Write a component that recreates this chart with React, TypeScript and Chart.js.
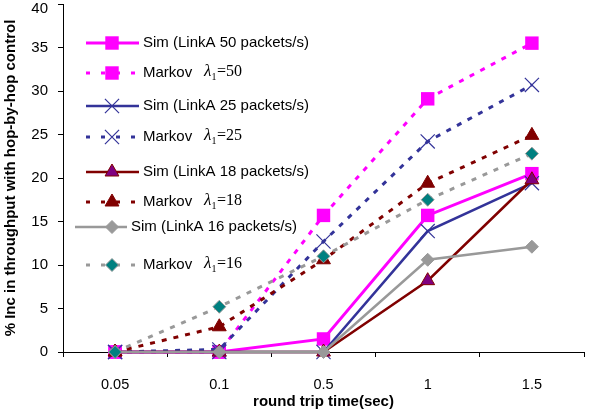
import React, { useEffect, useRef } from "react";
import { Chart, registerables } from "chart.js";

Chart.register(...registerables);

const categories = ["0.05", "0.1", "0.5", "1", "1.5"];
const sim50 = [0, 0, 1.5, 15.7, 20.5];
const markov50 = [0, 0, 15.7, 29.1, 35.5];
const sim25 = [0, 0, 0, 13.9, 19.4];
const markov25 = [0, 0.3, 12.7, 24.2, 30.7];
const sim18 = [0, 0, 0, 8.2, 19.8];
const markov18 = [0, 2.9, 10.6, 19.4, 24.9];
const sim16 = [0, 0, 0, 10.6, 12.1];
const markov16 = [0, 5.2, 11.0, 17.5, 22.8];

const yTicks = [0, 5, 10, 15, 20, 25, 30, 35, 40];
const lambdas = ["50", "25", "18", "16"];

const SANS = "'Liberation Sans', Arial, sans-serif";
const SERIF = "'Liberation Serif', 'Times New Roman', serif";

const MAGENTA = "#FF00FF";
const NAVY = "#333399";
const DARKRED = "#800000";
const GRAY = "#999999";
const TEAL = "#008080";
const PURPLE = "#800080";

// legend layout (positions in px)
const legendY = [43, 73, 106, 137, 172, 202, 227, 265];

function drawMarker(ctx: CanvasRenderingContext2D, style: string, x: number, y: number, r: number, fill: string, stroke: string, bw: number) {
  ctx.save();
  ctx.setLineDash([]);
  ctx.beginPath();
  if (style === "rect") {
    const s = Math.SQRT1_2 * r;
    ctx.rect(x - s, y - s, 2 * s, 2 * s);
  } else if (style === "rectRot") {
    ctx.moveTo(x - r, y);
    ctx.lineTo(x, y - r);
    ctx.lineTo(x + r, y);
    ctx.lineTo(x, y + r);
    ctx.closePath();
  } else if (style === "triangle") {
    let a = 0;
    ctx.moveTo(x + Math.sin(a) * r, y - Math.cos(a) * r);
    a += (2 * Math.PI) / 3;
    ctx.lineTo(x + Math.sin(a) * r, y - Math.cos(a) * r);
    a += (2 * Math.PI) / 3;
    ctx.lineTo(x + Math.sin(a) * r, y - Math.cos(a) * r);
    ctx.closePath();
  } else if (style === "crossRot") {
    const o = Math.cos(Math.PI / 4) * r;
    ctx.moveTo(x - o, y - o);
    ctx.lineTo(x + o, y + o);
    ctx.moveTo(x + o, y - o);
    ctx.lineTo(x - o, y + o);
  }
  if (style !== "crossRot") {
    ctx.fillStyle = fill;
    ctx.fill();
  }
  if (bw > 0) {
    ctx.lineWidth = bw;
    ctx.strokeStyle = stroke;
    ctx.stroke();
  }
  ctx.restore();
}

const legendPlugin = {
  id: "customLegend",
  afterDatasetsDraw(chart: any) {
    const ctx: CanvasRenderingContext2D = chart.ctx;
    chart.data.datasets.forEach((ds: any, i: number) => {
      const y = legendY[i];
      const isSim = i % 2 === 0;
      const isLast = i === 6;
      const x0 = isLast ? 75 : 86;
      const x1 = isLast ? 127 : 139;
      const mx = 112;
      ctx.save();
      ctx.strokeStyle = ds.borderColor;
      ctx.lineWidth = ds.borderWidth;
      if (!isSim) ctx.setLineDash([4, 11]);
      ctx.beginPath();
      ctx.moveTo(x0, y);
      ctx.lineTo(x1, y);
      ctx.stroke();
      ctx.restore();
      drawMarker(ctx, ds.pointStyle, mx, y, ds.pointRadius, ds.pointBackgroundColor, ds.pointBorderColor, ds.pointBorderWidth);
      ctx.save();
      ctx.fillStyle = "#000";
      ctx.textBaseline = "middle";
      ctx.textAlign = "left";
      if (isSim) {
        ctx.font = `15px ${SANS}`;
        ctx.fillText(ds.label, isLast ? 131 : 143, y);
      } else {
        ctx.font = `15px ${SANS}`;
        ctx.fillText("Markov", 143, y);
        ctx.font = `italic 17px ${SERIF}`;
        ctx.fillText("\u03BB", 204, y - 1);
        ctx.font = `10px ${SERIF}`;
        ctx.fillText("1", 211.5, y + 4);
        ctx.font = `16px ${SERIF}`;
        ctx.fillText("=" + lambdas[(i - 1) / 2], 217, y - 1);
      }
      ctx.restore();
    });
  },
};

export default function App() {
  const ref = useRef<HTMLCanvasElement>(null);
  useEffect(() => {
    if (!ref.current) return;
    const mk = (label: string, data: number[], color: string, dashed: boolean, width: number, pointStyle: string, radius: number, fill: string, border: string, bw: number, idx: number) => ({
      label,
      data,
      borderColor: color,
      backgroundColor: fill,
      borderWidth: width,
      borderDash: dashed ? [5, 7] : [],
      pointStyle,
      pointRadius: radius,
      pointHoverRadius: radius,
      pointBackgroundColor: fill,
      pointBorderColor: border,
      pointBorderWidth: bw,
      tension: 0,
      fill: false,
      clip: false,
      order: -idx,
    });
    const chart = new Chart(ref.current, {
      type: "line",
      data: {
        labels: categories,
        datasets: [
          mk("Sim (LinkA 50 packets/s)", sim50, MAGENTA, false, 3, "rect", 9.5, MAGENTA, MAGENTA, 0, 0),
          mk("Markov \u03BB1=50", markov50, MAGENTA, true, 3, "rect", 9.5, MAGENTA, MAGENTA, 0, 1),
          mk("Sim (LinkA 25 packets/s)", sim25, NAVY, false, 2.5, "crossRot", 10, NAVY, NAVY, 1.2, 2),
          mk("Markov \u03BB1=25", markov25, NAVY, true, 3, "crossRot", 10, NAVY, NAVY, 1.2, 3),
          mk("Sim (LinkA 18 packets/s)", sim18, DARKRED, false, 2.5, "triangle", 8, PURPLE, DARKRED, 1, 4),
          mk("Markov \u03BB1=18", markov18, DARKRED, true, 3, "triangle", 8, DARKRED, DARKRED, 1, 5),
          mk("Sim (LinkA 16 packets/s)", sim16, GRAY, false, 2.5, "rectRot", 6.5, GRAY, GRAY, 1, 6),
          mk("Markov \u03BB1=16", markov16, GRAY, true, 3, "rectRot", 6.5, TEAL, GRAY, 1, 7),
        ] as any,
      },
      options: {
        animation: false,
        responsive: false,
        maintainAspectRatio: false,
        layout: { autoPadding: false, padding: { top: 4, right: 7, left: 0, bottom: 0 } },
        plugins: { legend: { display: false }, tooltip: { enabled: false } },
        scales: {
          x: {
            type: "category",
            offset: true,
            grid: { display: true, drawOnChartArea: false, drawTicks: true, tickLength: 5, offset: true, color: "#000", lineWidth: 1 },
            border: { display: true, color: "#000", width: 1 },
            ticks: { color: "#000", font: { family: SANS, size: 14.5 }, padding: 19, maxRotation: 0 },
            title: { display: true, text: "round trip time(sec)", color: "#000", font: { family: SANS, size: 15, weight: "bold" }, padding: { top: 0, bottom: 5 } },
            afterFit: (s: any) => { s.height = 64; s.paddingLeft = 0; s.paddingRight = 0; },
          },
          y: {
            min: 0,
            max: 40,
            afterBuildTicks: (s: any) => { s.ticks = yTicks.map((v) => ({ value: v })); },
            grid: { display: true, drawOnChartArea: false, drawTicks: true, tickLength: 5, color: "#000", lineWidth: 1 },
            border: { display: true, color: "#000", width: 1 },
            ticks: {
              color: "#000",
              font: { family: SANS, size: 15, lineHeight: 0.6 },
              padding: 10,
              callback: (v: any) => (v === 40 ? ["", "40"] : String(v)),
            },
            title: { display: true, text: "% Inc in throughput with hop-by-hop control", color: "#000", font: { family: SANS, size: 15, weight: "bold" }, padding: { top: 2, bottom: 0 } },
            afterFit: (s: any) => { s.width = 63; s.paddingTop = 0; s.paddingBottom = 0; },
          },
        },
      } as any,
      plugins: [legendPlugin],
    });
    return () => chart.destroy();
  }, []);
  return (
    <div style={{ position: "absolute", left: 0, top: 0, width: 591, height: 416, background: "#fff" }}>
      <canvas ref={ref} width={591} height={416} style={{ width: 591, height: 416, display: "block" }} />
    </div>
  );
}
